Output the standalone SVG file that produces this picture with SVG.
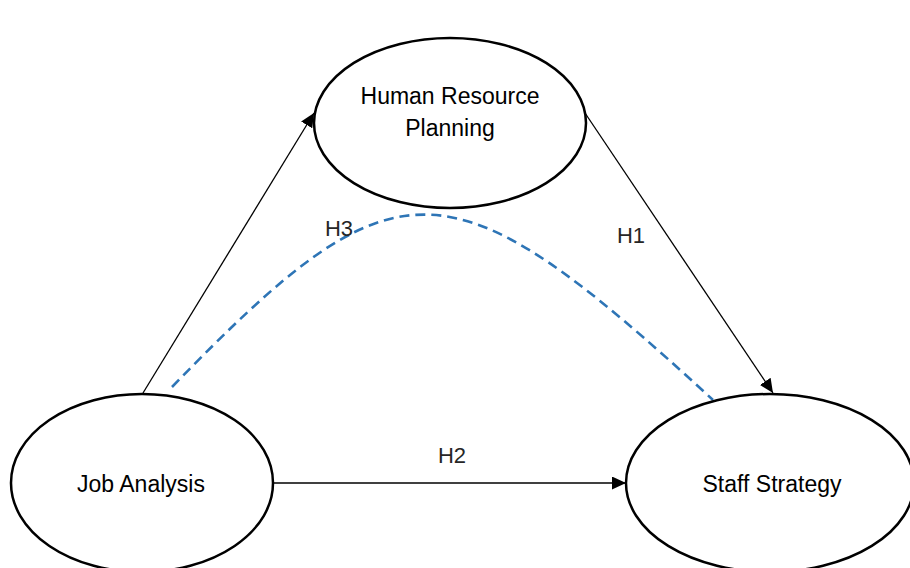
<svg xmlns="http://www.w3.org/2000/svg" width="910" height="568" viewBox="0 0 910 568">
  <style>
    .node { fill: #ffffff; stroke: #000000; stroke-width: 2.5; }
    .label { font-family: "Liberation Sans", Arial, sans-serif; font-size: 23px; fill: #000000; text-anchor: middle; }
    .hyp { font-family: "Liberation Sans", Arial, sans-serif; font-size: 22px; fill: #262626; text-anchor: middle; }
    .edge { fill: none; stroke: #000000; stroke-width: 1.3; }
    .mediation { fill: none; stroke: #2E75B6; stroke-width: 2.6; stroke-dasharray: 10 6; }
  </style>
  <defs>
    <marker id="arrow" viewBox="0 0 14 13" refX="14" refY="6.5" markerWidth="14" markerHeight="13" markerUnits="userSpaceOnUse" orient="auto">
      <path d="M0,0 L14,6.5 L0,13 Z" fill="#000000"/>
    </marker>
  </defs>

  <rect width="910" height="568" fill="#ffffff"/>

  <g id="connectors">
    <line class="edge" x1="143" y1="393" x2="314" y2="113" marker-end="url(#arrow)"/>
    <line class="edge" x1="585" y1="113" x2="773" y2="393" marker-end="url(#arrow)"/>
    <line class="edge" x1="273" y1="483" x2="626" y2="483" marker-end="url(#arrow)"/>
    <path class="mediation" d="M172,387 C397,155 447,155 713,400"/>
    <text class="hyp" x="631" y="243">H1</text>
    <text class="hyp" x="452" y="463">H2</text>
    <text class="hyp" x="339" y="236">H3</text>
  </g>

  <g id="node-hrp">
    <ellipse class="node" cx="450" cy="123" rx="136" ry="85"/>
    <text class="label" x="450" y="104">Human Resource</text>
    <text class="label" x="450" y="136">Planning</text>
  </g>

  <g id="node-job-analysis">
    <ellipse class="node" cx="142" cy="483" rx="131" ry="89"/>
    <text class="label" x="141" y="492">Job Analysis</text>
  </g>

  <g id="node-staff-strategy">
    <ellipse class="node" cx="770" cy="483" rx="144" ry="89"/>
    <text class="label" x="772" y="492">Staff Strategy</text>
  </g>
</svg>
